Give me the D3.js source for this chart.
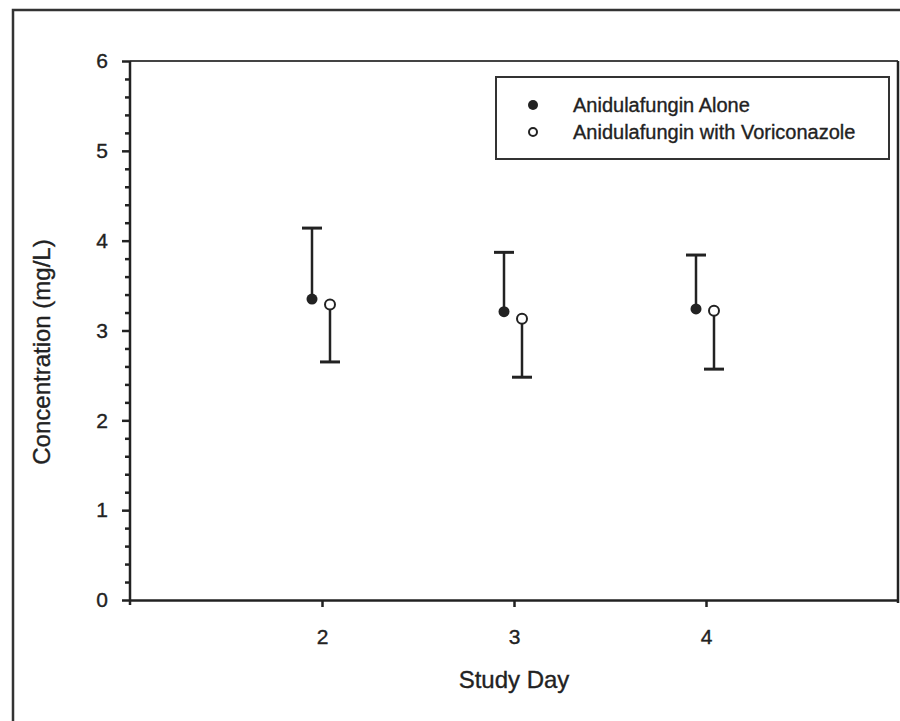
<!DOCTYPE html>
<head>
    <meta charset="utf-8">
    <title>Anidulafungin concentration by study day</title>
    <script src="https://cdn.jsdelivr.net/npm/d3@7"></script>
    <style>
        body { margin: 0; background: #fff; }
        svg { font-family: 'Liberation Sans', Arial, sans-serif; }
        svg text { stroke: #222; stroke-width: 0.35px; }
        .axis path, .axis line { stroke: #222; stroke-width: 2.5px; }
        .axis text { font-size: 21px; fill: #222; }
    </style>
</head>
<body>
    <svg id="chart" width="900" height="721"></svg>
    <script>
        // values
        var days = [2, 3, 4];
        var aloneMean = [3.35, 3.21, 3.24];
        var aloneUpper = [4.14, 3.87, 3.84];
        var voriMean = [3.29, 3.13, 3.22];
        var voriLower = [2.65, 2.48, 2.57];
        var yTicks = [0, 1, 2, 3, 4, 5, 6];
        var legendLabels = ["Anidulafungin Alone", "Anidulafungin with Voriconazole"];

        var svg = d3.select("#chart");
        var ink = "#222";

        // plot area bounds
        var plotL = 130, plotR = 898, plotT = 61, plotB = 600;

        var x = d3.scaleLinear().domain([1, 5]).range([plotL, plotR]);
        var y = d3.scaleLinear().domain([0, 6]).range([plotB, plotT]);

        // outer frame (only top and left edges show in the scan)
        svg.append("path")
            .attr("d", "M13,721 V10 H900")
            .attr("fill", "none")
            .attr("stroke", "#333")
            .attr("stroke-width", 2.5);

        // top and right of plot box
        svg.append("path")
            .attr("d", `M${plotL},${plotT} H${plotR}`)
            .attr("fill", "none")
            .attr("stroke", "#444")
            .attr("stroke-width", 2);
        svg.append("path")
            .attr("d", `M${plotR},${plotT} V${plotB + 3}`)
            .attr("fill", "none")
            .attr("stroke", ink)
            .attr("stroke-width", 2.5);

        // y axis: minor ticks every 0.2
        var minor = d3.range(0, 6.01, 0.2).filter(v => Math.abs(v - Math.round(v)) > 0.01);
        svg.append("g")
            .attr("class", "axis")
            .attr("transform", `translate(${plotL},0)`)
            .call(d3.axisLeft(y).tickValues(minor).tickSize(5).tickFormat(""))
            .select(".domain").remove();

        var yAxis = svg.append("g")
            .attr("class", "axis")
            .attr("transform", `translate(${plotL},0)`)
            .call(d3.axisLeft(y).tickValues(yTicks).tickFormat(d3.format("d"))
                .tickSize(8).tickSizeOuter(0).tickPadding(14));
        yAxis.select(".domain").attr("d", `M0,${plotT}V${plotB + 5}`);

        // x axis
        svg.append("g")
            .attr("class", "axis")
            .attr("transform", `translate(0,${plotB})`)
            .call(d3.axisBottom(x).tickValues(days).tickFormat(d3.format("d"))
                .tickSize(7).tickSizeOuter(0).tickPadding(22));

        // axis titles
        svg.append("text")
            .attr("x", 514)
            .attr("y", 688)
            .attr("text-anchor", "middle")
            .style("font-size", "24px")
            .style("fill", ink)
            .text("Study Day");

        svg.append("text")
            .attr("transform", "translate(50,352) rotate(-90)")
            .attr("text-anchor", "middle")
            .style("font-size", "24px")
            .style("fill", ink)
            .text("Concentration (mg/L)");

        // error bars and points
        var capHalf = 10;
        var offA = -10, offV = 8;

        days.forEach(function (d, i) {
            var xa = x(d) + offA;
            var xv = x(d) + offV;

            // anidulafungin alone: upper bar only
            svg.append("line")
                .attr("x1", xa).attr("x2", xa)
                .attr("y1", y(aloneMean[i])).attr("y2", y(aloneUpper[i]))
                .attr("stroke", ink).attr("stroke-width", 2.5);
            svg.append("line")
                .attr("x1", xa - capHalf).attr("x2", xa + capHalf)
                .attr("y1", y(aloneUpper[i])).attr("y2", y(aloneUpper[i]))
                .attr("stroke", ink).attr("stroke-width", 3);

            // with voriconazole: lower bar only
            svg.append("line")
                .attr("x1", xv).attr("x2", xv)
                .attr("y1", y(voriMean[i])).attr("y2", y(voriLower[i]))
                .attr("stroke", ink).attr("stroke-width", 2.5);
            svg.append("line")
                .attr("x1", xv - capHalf).attr("x2", xv + capHalf)
                .attr("y1", y(voriLower[i])).attr("y2", y(voriLower[i]))
                .attr("stroke", ink).attr("stroke-width", 3);

            svg.append("circle")
                .attr("cx", xa).attr("cy", y(aloneMean[i]))
                .attr("r", 5.5)
                .attr("fill", ink);
            svg.append("circle")
                .attr("cx", xv).attr("cy", y(voriMean[i]))
                .attr("r", 5)
                .attr("fill", "#fff")
                .attr("stroke", ink)
                .attr("stroke-width", 2);
        });

        // legend
        var legend = svg.append("g").attr("transform", "translate(496,77)");
        legend.append("rect")
            .attr("width", 393).attr("height", 82)
            .attr("fill", "#fff")
            .attr("stroke", "#333")
            .attr("stroke-width", 2);

        legendLabels.forEach(function (lab, i) {
            var ly = 28 + i * 27;
            if (i === 0) {
                legend.append("circle").attr("cx", 37).attr("cy", ly).attr("r", 5).attr("fill", ink);
            } else {
                legend.append("circle").attr("cx", 37).attr("cy", ly).attr("r", 4)
                    .attr("fill", "#fff").attr("stroke", ink).attr("stroke-width", 2);
            }
            legend.append("text")
                .attr("x", 77)
                .attr("y", ly)
                .attr("dy", "0.35em")
                .style("font-size", "20px")
                .style("fill", ink)
                .text(lab);
        });
    </script>
</body>
</html>
